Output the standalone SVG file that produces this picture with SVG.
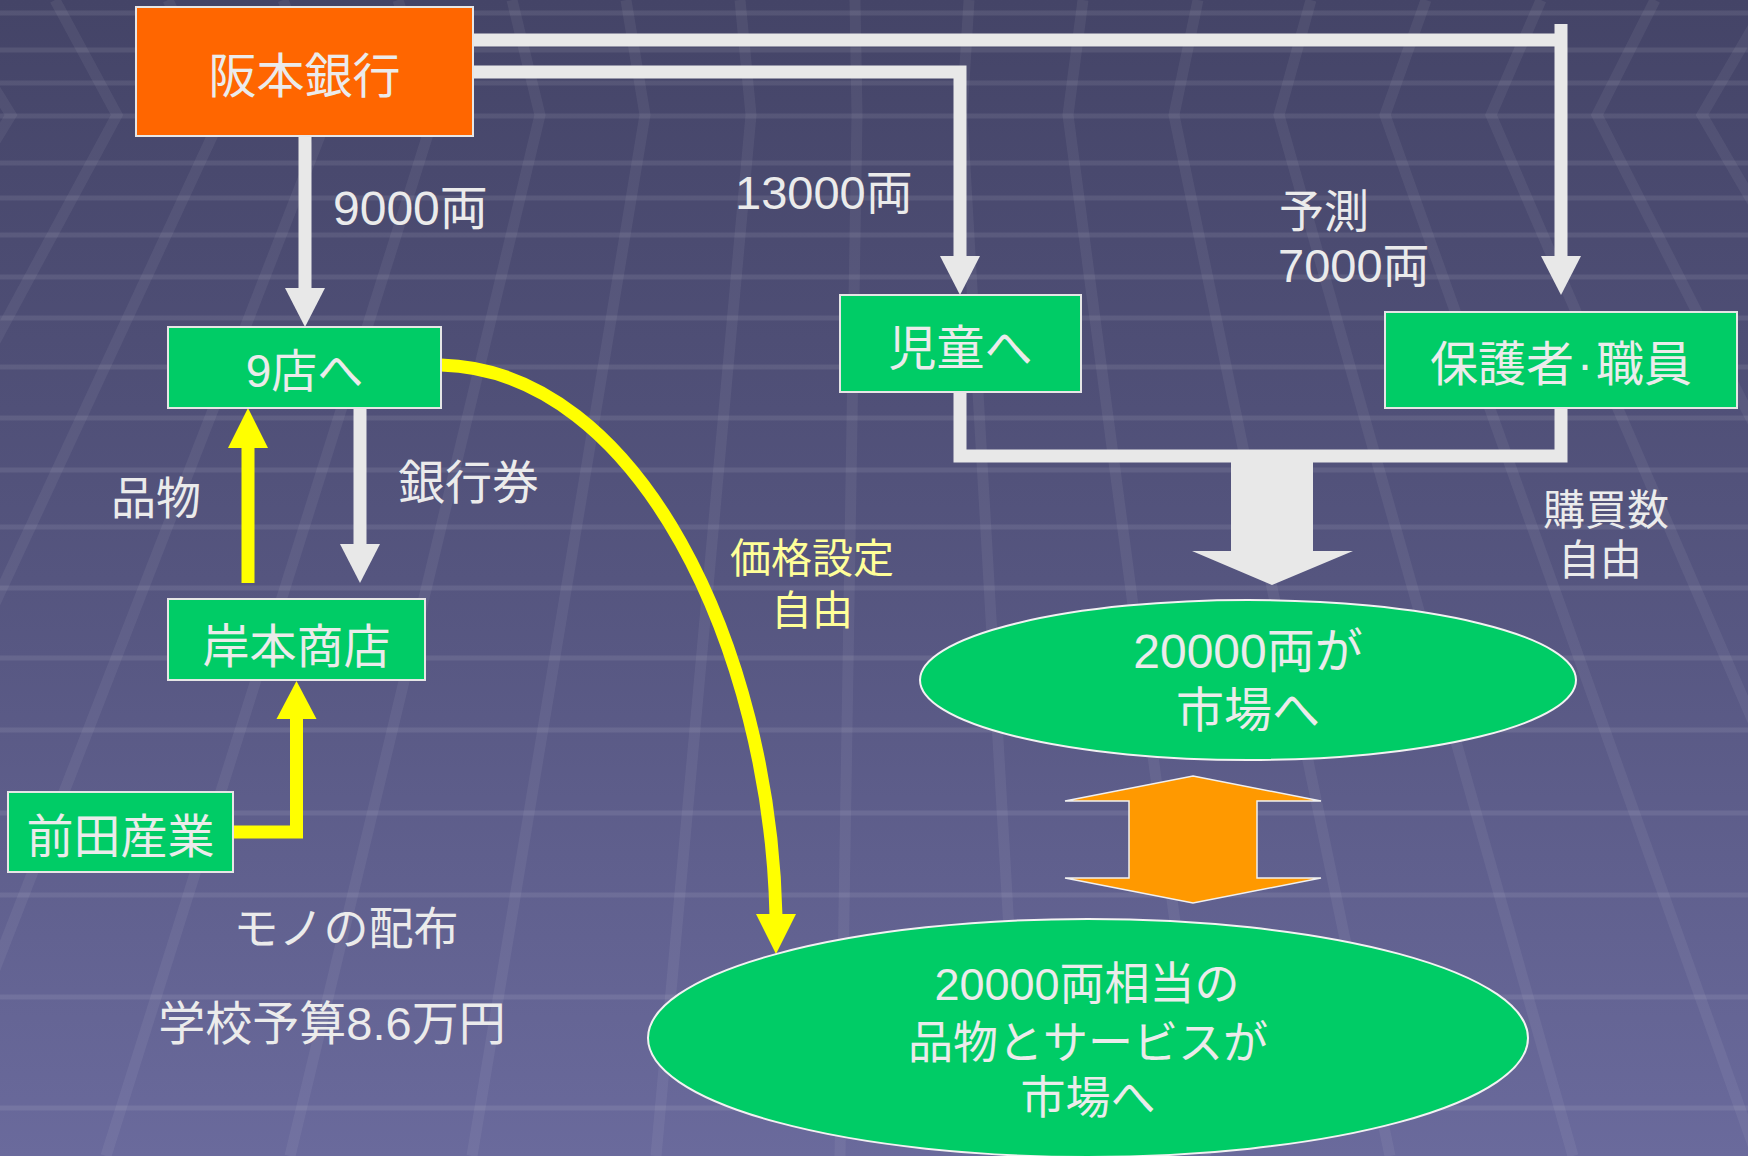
<svg xmlns="http://www.w3.org/2000/svg" width="1748" height="1156" viewBox="0 0 1748 1156">
<defs>
<linearGradient id="bg" x1="0" y1="0" x2="0" y2="1">
<stop offset="0" stop-color="#444467"/>
<stop offset="0.5" stop-color="#55557f"/>
<stop offset="1" stop-color="#6a6a9c"/>
</linearGradient>
<style>
.t{font-family:'Liberation Sans','Noto Sans CJK JP',sans-serif;fill:#ebebeb;}
.c{text-anchor:middle;}
.y{fill:#ffff99;}
.box{fill:#00cc66;stroke:#e6e6e6;stroke-width:2;}
.bank{fill:#ff6600;stroke:#e6e6e6;stroke-width:2;}
.ell{fill:#00cc66;stroke:#f2f2f2;stroke-width:2;}
.w{fill:none;stroke:#e8e8e8;stroke-width:13;stroke-linejoin:miter;}
.wh{fill:#e8e8e8;}
.yl{fill:none;stroke:#ffff00;stroke-width:13;stroke-linejoin:miter;}
.yh{fill:#ffff00;}
.stripe{stroke:#ffffff;stroke-opacity:0.085;stroke-width:5;}
.slant{fill:none;stroke:#ffffff;stroke-opacity:0.06;stroke-width:11;}
</style>
</defs>
<g id="background">
<rect x="0" y="0" width="1748" height="1156" fill="url(#bg)"/>
<g class="stripe">
<line x1="0" y1="13" x2="1748" y2="13"/>
<line x1="0" y1="50" x2="1748" y2="50"/>
<line x1="0" y1="83" x2="1748" y2="83"/>
<line x1="0" y1="116" x2="1748" y2="116"/>
<line x1="0" y1="163" x2="1748" y2="163"/>
<line x1="0" y1="198" x2="1748" y2="198"/>
<line x1="0" y1="235" x2="1748" y2="235"/>
<line x1="0" y1="277" x2="1748" y2="277"/>
<line x1="0" y1="318" x2="1748" y2="318"/>
<line x1="0" y1="367" x2="1748" y2="367"/>
<line x1="0" y1="418" x2="1748" y2="418"/>
<line x1="0" y1="470" x2="1748" y2="470"/>
<line x1="0" y1="527" x2="1748" y2="527"/>
<line x1="0" y1="588" x2="1748" y2="588"/>
<line x1="0" y1="658" x2="1748" y2="658"/>
<line x1="0" y1="730" x2="1748" y2="730"/>
<line x1="0" y1="813" x2="1748" y2="813"/>
<line x1="0" y1="895" x2="1748" y2="895"/>
<line x1="0" y1="997" x2="1748" y2="997"/>
<line x1="0" y1="1108" x2="1748" y2="1108"/>
</g>
<g class="slant">
<polyline points="-60,0 11,115 -628,1156"/>
<polyline points="55,0 117,115 -444,1156"/>
<polyline points="168,0 222,115 -262,1156"/>
<polyline points="283,0 328,115 -78,1156"/>
<polyline points="398,0 434,115 106,1156"/>
<polyline points="512,0 540,115 290,1156"/>
<polyline points="626,0 645,115 472,1156"/>
<polyline points="740,0 751,115 656,1156"/>
<polyline points="855,0 857,115 840,1156"/>
<polyline points="969,0 962,115 1022,1156"/>
<polyline points="1083,0 1068,115 1206,1156"/>
<polyline points="1198,0 1174,115 1390,1156"/>
<polyline points="1311,0 1279,115 1573,1156"/>
<polyline points="1426,0 1385,115 1757,1156"/>
<polyline points="1541,0 1491,115 1941,1156"/>
<polyline points="1655,0 1597,115 2125,1156"/>
<polyline points="1769,0 1702,115 2307,1156"/>
</g>
</g>
<g id="connectors">
<line class="w" x1="305" y1="136" x2="305" y2="290"/>
<polygon class="wh" points="285,288 325,288 305,327"/>
<polyline class="w" points="473,72 960,72 960,258"/>
<polygon class="wh" points="940,256 980,256 960,295"/>
<line class="w" x1="473" y1="40" x2="1561" y2="40"/>
<line class="w" x1="1561" y1="24" x2="1561" y2="258"/>
<polygon class="wh" points="1541,256 1581,256 1561,295"/>
<polyline class="w" points="960,392 960,456 1561,456 1561,408"/>
<polygon class="wh" points="1231,462 1313,462 1313,551 1353,551 1272,585 1192,551 1231,551"/>
<line class="w" x1="360" y1="408" x2="360" y2="546"/>
<polygon class="wh" points="340,544 380,544 360,583"/>
<line class="yl" x1="248" y1="583" x2="248" y2="446"/>
<polygon class="yh" points="228,448 268,448 248,408"/>
<polyline class="yl" points="233,832 296.5,832 296.5,717"/>
<polygon class="yh" points="276.5,719 316.5,719 296.5,681"/>
<path class="yl" d="M441,365 C640,370 770,650 776,916" stroke-width="12"/>
<polygon class="yh" points="756,914 796,914 776,954"/>
<polygon points="1193,776 1321,801 1257,801 1257,878 1321,878 1193,903 1065,878 1129,878 1129,801 1065,801" fill="#ff9900" stroke="#f0f0f0" stroke-width="1.5"/>
</g>
<g id="labels">
<text class="t" x="333" y="225" font-size="48">9000両</text>
<text class="t" x="735" y="209" font-size="47">13000両</text>
<text class="t" x="1279" y="228" font-size="45">予測</text>
<text class="t" x="1278" y="282" font-size="47">7000両</text>
<text class="t" x="111" y="515" font-size="45">品物</text>
<text class="t" x="398" y="499" font-size="47">銀行券</text>
<text class="t y c" x="812" y="573" font-size="41">価格設定</text>
<text class="t y c" x="812" y="625" font-size="41">自由</text>
<text class="t c" x="1606" y="525" font-size="42">購買数</text>
<text class="t c" x="1600" y="575" font-size="42">自由</text>
<text class="t c" x="346" y="945" font-size="45">モノの配布</text>
<text class="t c" x="332" y="1040" font-size="47">学校予算8.6万円</text>
</g>
<g id="node-bank">
<rect class="bank" x="136" y="7" width="337" height="129"/>
<text class="t c" x="304.5" y="93" font-size="48">阪本銀行</text>
</g>
<g id="node-9shops">
<rect class="box" x="168" y="327" width="273" height="81"/>
<text class="t c" x="304.5" y="387" font-size="46">9店へ</text>
</g>
<g id="node-kishimoto">
<rect class="box" x="168" y="599" width="257" height="81"/>
<text class="t c" x="296.5" y="663" font-size="47">岸本商店</text>
</g>
<g id="node-maeda">
<rect class="box" x="8" y="792" width="225" height="80"/>
<text class="t c" x="120.5" y="853" font-size="47">前田産業</text>
</g>
<g id="node-children">
<rect class="box" x="840" y="295" width="241" height="97"/>
<text class="t c" x="960.5" y="365" font-size="48">児童へ</text>
</g>
<g id="node-parents">
<rect class="box" x="1385" y="312" width="352" height="96"/>
<text class="t c" x="1561" y="381" font-size="48">保護者<tspan dx="3">·</tspan><tspan dx="3">職員</tspan></text>
</g>
<g id="node-market-money">
<ellipse class="ell" cx="1248" cy="680" rx="328" ry="80"/>
<text class="t c" x="1248" y="668" font-size="48">20000両が</text>
<text class="t c" x="1248" y="727" font-size="48">市場へ</text>
</g>
<g id="node-market-goods">
<ellipse class="ell" cx="1088" cy="1038" rx="440" ry="119"/>
<text class="t c" x="1087" y="1000" font-size="45">20000両相当の</text>
<text class="t c" x="1088" y="1059" font-size="45">品物とサービスが</text>
<text class="t c" x="1088" y="1114" font-size="45">市場へ</text>
</g>
</svg>
